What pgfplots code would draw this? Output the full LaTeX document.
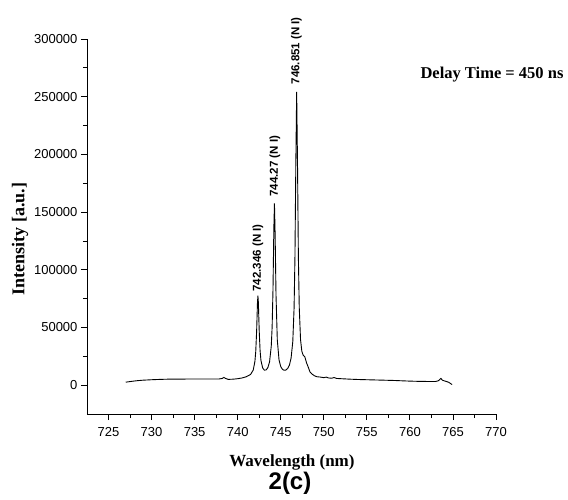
\documentclass[border=0pt]{standalone}
\usepackage{pgfplots}
\pgfplotsset{compat=1.18}
\usepackage{fontspec}
\setmainfont{Liberation Serif}
\setsansfont{Liberation Sans}
\pgfplotstableread{
x y
727.0 2600
727.5 3100
728.0 3600
728.5 4000
729.0 4300
729.5 4500
730.0 4700
731.0 5000
732.0 5200
733.0 5200
734.0 5300
735.0 5300
736.0 5300
737.0 5300
737.8 5300
738.2 5800
738.4 6700
738.6 5800
738.9 5000
739.5 5200
740.0 5600
740.5 6200
741.0 7300
741.5 9300
741.8 13000
742.0 20500
742.1 29400
742.2 46700
742.3 71900
742.35 77500
742.4 72000
742.5 47100
742.6 30100
742.7 21500
742.9 14900
743.1 13000
743.3 13200
743.5 15100
743.7 20100
743.9 33800
744.0 50200
744.1 82600
744.2 135800
744.27 157600
744.35 130400
744.45 78400
744.6 39300
744.8 22000
745.0 16100
745.2 13700
745.4 12900
745.6 13100
745.8 14400
746.0 17200
746.2 23300
746.4 37800
746.55 66900
746.65 110400
746.75 190300
746.85 254200
746.95 190500
747.05 110600
747.15 67500
747.3 39400
747.45 29400
747.6 26100
747.8 24500
748.0 19300
748.2 15500
748.4 11400
748.6 9800
748.9 8200
749.2 7300
749.6 7000
750.0 6500
750.3 7000
750.5 6300
750.9 6000
751.2 6600
751.5 5800
752.0 5600
753.0 5200
754.0 4900
755.0 4700
756.0 4500
757.0 4300
758.0 4100
759.0 3800
760.0 3500
761.0 3300
762.0 3200
763.0 3200
763.3 3800
763.6 5800
763.8 4200
764.1 3500
764.5 2500
764.9 500
}\spectrum
\begin{document}
\begin{tikzpicture}
\useasboundingbox (-87pt,-85pt) rectangle (481pt,414pt);
\begin{axis}[
  scale only axis,
  width=409pt, height=375pt,
  at={(0pt,0pt)}, anchor=south west,
  axis lines*=left,
  xmin=722.5, xmax=770,
  ymin=-25000, ymax=300000,
  xtick={725,730,...,770},
  ytick={0,50000,...,300000},
  minor x tick num=1,
  minor y tick num=1,
  tick align=outside,
  major tick length=6pt,
  minor tick length=4pt,
  tick style={black, line width=0.8pt},
  axis line style={line width=0.8pt},
  scaled y ticks=false,
  /pgf/number format/.cd, fixed, 1000 sep={}, assume math mode=true,
  /pgfplots/.cd,
  tick label style={font=\sffamily\fontsize{13}{15}\selectfont},
  xticklabel style={yshift=-4pt},
  clip=false,
]
\addplot[black, line width=0.9pt] table[x=x,y=y] {\spectrum};
\node[rotate=90, anchor=west, inner sep=0pt, font=\sffamily\bfseries\fontsize{11.5}{13}\selectfont] at (axis cs:742.35,81000) {742.346 (N I)};
\node[rotate=90, anchor=west, inner sep=0pt, font=\sffamily\bfseries\fontsize{11.5}{13}\selectfont] at (axis cs:744.31,163400) {744.27 (N I)};
\node[rotate=90, anchor=west, inner sep=0pt, font=\sffamily\bfseries\fontsize{11.5}{13}\selectfont] at (axis cs:746.83,260500) {746.851 (N I)};
\end{axis}
\node[font=\bfseries\fontsize{16.5}{18}\selectfont] at (405pt,339pt) {Delay Time = 450 ns};
\node[rotate=90, font=\bfseries\fontsize{18}{20}\selectfont] at (-67pt,175pt) {Intensity [a.u.]};
\node[font=\bfseries\fontsize{17}{19}\selectfont] at (205pt,-48pt) {Wavelength (nm)};
\node[font=\sffamily\bfseries\fontsize{24}{26}\selectfont] at (203pt,-69pt) {2(c)};
\end{tikzpicture}
\end{document}
